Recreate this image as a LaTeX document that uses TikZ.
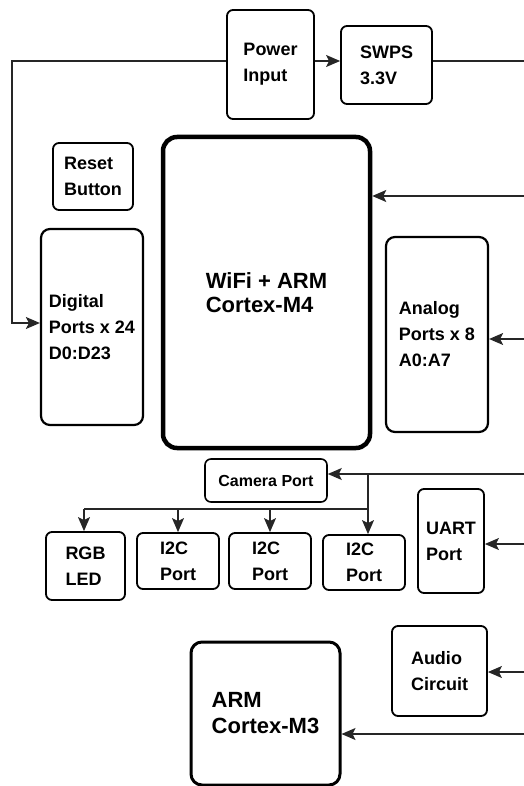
\documentclass[tikz,border=0pt]{standalone}
\usepackage{fontspec}
\setmainfont{Liberation Sans}
\usetikzlibrary{arrows.meta}
\tikzset{
  box/.style={draw, rounded corners=6pt, line width=1.8pt, align=left, inner sep=0pt,
    font=\fontsize{18}{26}\selectfont\bfseries},
  bigbox/.style={box, rounded corners=14pt, line width=4.5pt, font=\fontsize{22}{24}\selectfont\bfseries},
  conn/.style={line width=1.2pt, draw=black!85},
  arr/.style={conn, -{Stealth[length=14pt,width=12pt,inset=3pt]}}
}
\begin{document}
\begin{tikzpicture}[x=1pt,y=-1pt]
\useasboundingbox (0,0) rectangle (524,786);
% boxes
\node[box, minimum width=87, minimum height=109] (pin) at (270.5,64.5) {Power\\Input};
\node[box, minimum width=91, minimum height=78] (swps) at (386.5,65) {SWPS\\3.3V};
\node[box, minimum width=80, minimum height=67] (reset) at (93,176.5) {Reset\\Button};
\node[box, line width=2.2pt, rounded corners=9pt, minimum width=102, minimum height=196] (dig) at (92,327) {Digital\\Ports x 24\\D0:D23};
\node[bigbox, minimum width=207, minimum height=311] (main) at (266.5,292.5) {WiFi + ARM\\Cortex-M4};
\node[box, line width=2.2pt, rounded corners=9pt, minimum width=102, minimum height=195] (ana) at (437,334.5) {Analog\\Ports x 8\\A0:A7};
\node[box, line width=1.6pt, minimum width=122, minimum height=43, font=\fontsize{16}{20}\selectfont\bfseries] (cam) at (266,480.5) {Camera Port};
\node[box, minimum width=79, minimum height=68] (rgb) at (85.5,566) {RGB\\LED};
\node[box, minimum width=82, minimum height=56] (i2ca) at (178,561) {I2C\\Port};
\node[box, minimum width=82, minimum height=56] (i2cb) at (270,561) {I2C\\Port};
\node[box, minimum width=82, minimum height=55] (i2cc) at (364,562.5) {I2C\\Port};
\node[box, minimum width=66, minimum height=104] (uart) at (451,541) {UART\\Port};
\node[box, minimum width=95, minimum height=90] (audio) at (439.5,671) {Audio\\Circuit};
\node[box, line width=3pt, rounded corners=11pt, minimum width=149, minimum height=143,
  font=\fontsize{22}{26}\selectfont\bfseries] (m3) at (265.5,713.5) {ARM\\Cortex-M3};
% coordinates
\coordinate (tl) at (12,61);
\coordinate (bl) at (12,323);
\coordinate (swr) at (524,61);
\coordinate (mainR) at (524,196);
\coordinate (anaR) at (524,339);
\coordinate (camR) at (524,474);
\coordinate (jc) at (368,474);
\coordinate (jb) at (368,509);
\coordinate (jl) at (84,509);
\coordinate (uartR) at (524,544);
\coordinate (audR) at (524,672);
\coordinate (m3R) at (524,734);
% connectors
\draw[arr] (pin.west |- tl) -- (tl) -- (bl) -- (dig.west |- bl);
\draw[arr] (pin.east |- tl) -- (swps.west |- tl);
\draw[conn] (swps.east |- tl) -- (swr);
\draw[arr] (mainR) -- (main.east |- mainR);
\draw[arr] (anaR) -- (ana.east |- anaR);
\draw[arr] (camR) -- (cam.east |- camR);
\draw[conn] (jc) -- (jb) -- (jl);
\draw[arr] (jl) -- (jl |- rgb.north);
\draw[arr] (i2ca |- jb) -- (i2ca.north);
\draw[arr] (i2cb |- jb) -- (i2cb.north);
\draw[arr] (jb) -- (jb |- i2cc.north);
\draw[arr] (uartR) -- (uart.east |- uartR);
\draw[arr] (audR) -- (audio.east |- audR);
\draw[arr] (m3R) -- (m3.east |- m3R);
\end{tikzpicture}
\end{document}
